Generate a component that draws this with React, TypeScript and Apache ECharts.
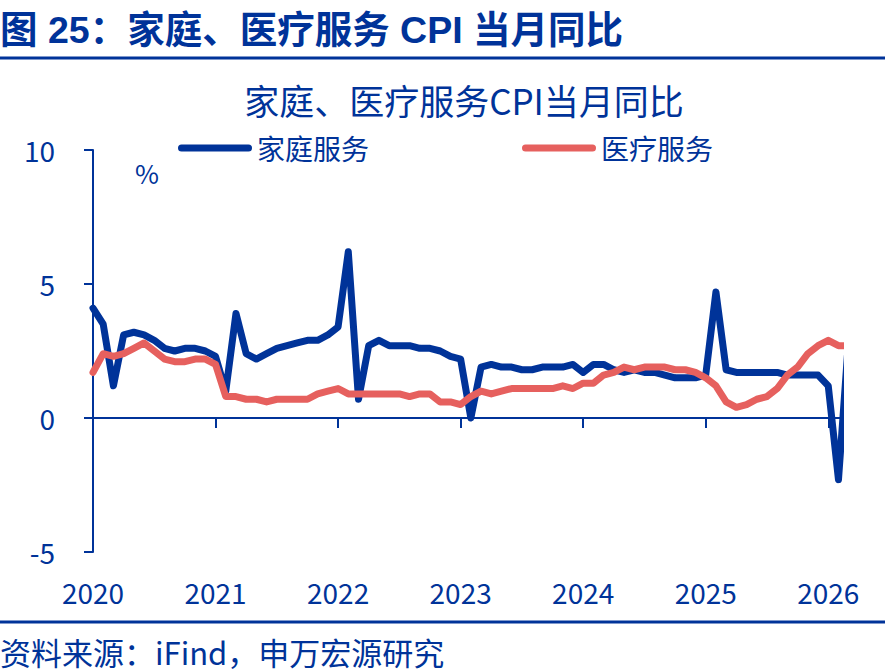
import React, { useEffect, useRef } from 'react';
import * as echarts from 'echarts';

// Tick labels (one per January)
const yearLabels = ['2020', '2021', '2022', '2023', '2024', '2025', '2026'];
const yTickValues = [-5, 0, 5, 10];

// Monthly YoY values from Jan 2020 (%)
const householdServices = [
  4.1, 3.5, 1.2, 3.1, 3.2, 3.1, 2.9, 2.6, 2.5, 2.6, 2.6, 2.5,
  2.3, 1.0, 3.9, 2.4, 2.2, 2.4, 2.6, 2.7, 2.8, 2.9, 2.9, 3.1,
  3.4, 6.2, 0.7, 2.7, 2.9, 2.7, 2.7, 2.7, 2.6, 2.6, 2.5, 2.3,
  2.2, 0.0, 1.9, 2.0, 1.9, 1.9, 1.8, 1.8, 1.9, 1.9, 1.9, 2.0,
  1.7, 2.0, 2.0, 1.8, 1.7, 1.8, 1.7, 1.7, 1.6, 1.5, 1.5, 1.5,
  1.6, 4.7, 1.8, 1.7, 1.7, 1.7, 1.7, 1.7, 1.6, 1.6, 1.6, 1.6,
  1.2, -2.3, 3.0,
];
const medicalServices = [
  1.7, 2.4, 2.3, 2.4, 2.6, 2.8, 2.5, 2.2, 2.1, 2.1, 2.2, 2.2,
  2.0, 0.8, 0.8, 0.7, 0.7, 0.6, 0.7, 0.7, 0.7, 0.7, 0.9, 1.0,
  1.1, 0.9, 0.9, 0.9, 0.9, 0.9, 0.9, 0.8, 0.9, 0.9, 0.6, 0.6,
  0.5, 0.8, 1.0, 0.9, 1.0, 1.1, 1.1, 1.1, 1.1, 1.1, 1.2, 1.1,
  1.3, 1.3, 1.6, 1.7, 1.9, 1.8, 1.9, 1.9, 1.9, 1.8, 1.8, 1.7,
  1.5, 1.2, 0.6, 0.4, 0.5, 0.7, 0.8, 1.1, 1.6, 1.9, 2.4, 2.7,
  2.9, 2.7, 2.7,
];

const seriesNames = ['家庭服务', '医疗服务'];
const headerText = '图 25：家庭、医疗服务 CPI 当月同比';
const titleText = '家庭、医疗服务CPI当月同比';
const unitText = '%';
const sourceText = '资料来源：iFind，申万宏源研究';

const BLUE = '#003399';
const RED = '#E6605E';
const FONT = '"Noto Sans CJK SC", "Noto Sans", sans-serif';
const HEADER_FONT = '"Liberation Sans", "Noto Sans CJK SC", sans-serif';
const GRID_WIDTH = 747;
const X_MAX = 73.15;

const pill = 'path://M3.5,0 H70.5 A3.5,3.5 0 0 1 70.5,7 H3.5 A3.5,3.5 0 0 1 3.5,0 Z';

export default function App() {
  const ref = useRef<HTMLDivElement>(null);

  useEffect(() => {
    if (!ref.current) return;
    const chart = echarts.init(ref.current, null, { renderer: 'svg' });
    const yearTicks = yearLabels.map((_, i) => i * 12);
    const toPairs = (arr: number[]) => arr.map((v, i) => [i, v]);

    const legendBase = {
      orient: 'horizontal' as const,
      top: 133,
      padding: 0,
      itemWidth: 74,
      itemHeight: 7,
      icon: pill,
      textStyle: { color: BLUE, fontSize: 28, lineHeight: 30, fontFamily: FONT },
      selectedMode: false,
    };

    const option: any = {
      animation: false,
      backgroundColor: '#ffffff',
      textStyle: { fontFamily: FONT },
      grid: {
        left: 93,
        top: 150,
        width: GRID_WIDTH,
        height: 402,
        containLabel: false,
        outerBoundsMode: 'none',
      },
      legend: [
        { ...legendBase, left: 178, data: [seriesNames[0]] },
        { ...legendBase, left: 522, data: [seriesNames[1]] },
      ],
      xAxis: [
        {
          type: 'value',
          min: 0,
          max: X_MAX,
          position: 'bottom',
          axisLine: { show: true, onZero: true, lineStyle: { color: BLUE, width: 2 } },
          axisTick: {
            show: true,
            inside: false,
            length: 10,
            customValues: yearTicks,
            lineStyle: { color: BLUE, width: 2 },
          },
          axisLabel: { show: false },
          splitLine: { show: false },
        },
        {
          type: 'value',
          min: 0,
          max: X_MAX,
          position: 'bottom',
          axisLine: { show: false, onZero: false },
          axisTick: { show: false },
          splitLine: { show: false },
          axisLabel: {
            show: true,
            customValues: yearTicks,
            formatter: (v: number) => yearLabels[Math.round(v / 12)] ?? '',
            color: BLUE,
            fontSize: 28,
            fontFamily: FONT,
            margin: 26,
          },
        },
      ],
      yAxis: {
        type: 'value',
        min: -5,
        max: 10,
        interval: 5,
        axisLine: { show: true, onZero: false, lineStyle: { color: BLUE, width: 2 } },
        axisTick: {
          show: true,
          inside: false,
          length: 9,
          customValues: yTickValues,
          lineStyle: { color: BLUE, width: 2 },
        },
        axisLabel: { color: BLUE, fontSize: 28, fontFamily: FONT, margin: 38 },
        splitLine: { show: false },
      },
      series: [
        {
          name: seriesNames[0],
          type: 'line',
          xAxisIndex: 0,
          data: toPairs(householdServices),
          symbol: 'none',
          color: BLUE,
          lineStyle: { color: BLUE, width: 7, cap: 'round', join: 'round' },
          clip: true,
        },
        {
          name: seriesNames[1],
          type: 'line',
          xAxisIndex: 0,
          data: toPairs(medicalServices),
          symbol: 'none',
          color: RED,
          lineStyle: { color: RED, width: 7, cap: 'round', join: 'round' },
          clip: true,
        },
      ],
      graphic: [
        {
          type: 'text',
          x: 0,
          y: 30,
          style: {
            text: headerText,
            fill: BLUE,
            font: `bold 37.5px ${HEADER_FONT}`,
            textAlign: 'left',
            textVerticalAlign: 'middle',
          },
        },
        {
          type: 'line',
          shape: { x1: 0, y1: 58, x2: 885, y2: 58 },
          style: { stroke: BLUE, lineWidth: 3 },
        },
        {
          type: 'text',
          x: 464,
          y: 99,
          style: {
            text: titleText,
            fill: BLUE,
            font: `35px ${FONT}`,
            textAlign: 'center',
            textVerticalAlign: 'middle',
          },
        },
        {
          type: 'text',
          x: 147,
          y: 172,
          style: {
            text: unitText,
            fill: BLUE,
            font: `26px ${FONT}`,
            textAlign: 'center',
            textVerticalAlign: 'middle',
          },
        },
        {
          type: 'line',
          shape: { x1: 0, y1: 622, x2: 885, y2: 622 },
          style: { stroke: BLUE, lineWidth: 3 },
        },
        {
          type: 'text',
          x: 0,
          y: 651,
          style: {
            text: sourceText,
            fill: BLUE,
            font: `31px ${FONT}`,
            textAlign: 'left',
            textVerticalAlign: 'middle',
          },
        },
      ],
    };

    chart.setOption(option);
    return () => chart.dispose();
  }, []);

  return (
    <div
      ref={ref}
      style={{ position: 'absolute', left: 0, top: 0, width: 885, height: 672 }}
    />
  );
}
